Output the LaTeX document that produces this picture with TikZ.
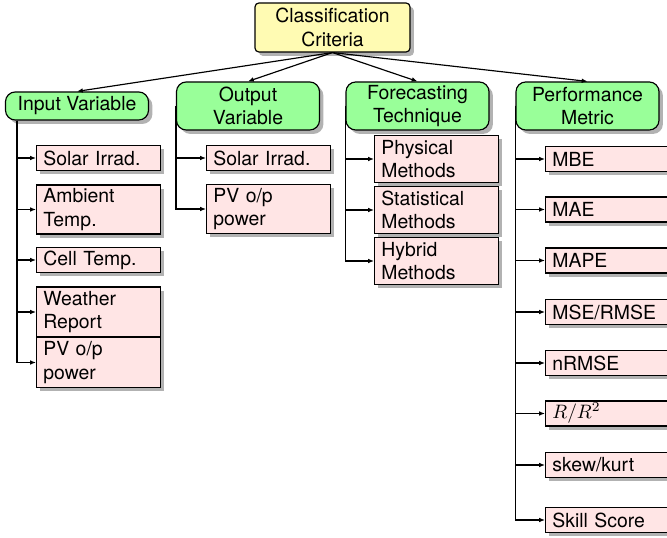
\documentclass[tikz,border=0pt]{standalone}
\usepackage[no-math]{fontspec}
\setmainfont{TeX Gyre Heros}
\usetikzlibrary{shadows,arrows.meta,calc}
\def\pxu{0.515pt}
\begin{document}
\begin{tikzpicture}[x=0.515pt,y=-0.515pt,
  box/.style={draw, line width=0.6pt,
    drop shadow={shadow xshift=2pt, shadow yshift=-2pt, opacity=0.3, fill=black}},
  rootbox/.style={box, fill=yellow!30, rounded corners=2pt, align=center,
    minimum width=155*\pxu, minimum height=49*\pxu, inner sep=1pt},
  catbox/.style={box, fill=green!40, rounded corners=5pt, align=center,
    minimum width=143*\pxu, minimum height=48*\pxu, inner sep=1pt},
  leaf/.style={box, fill=red!10, anchor=west, align=left,
    text width=124*\pxu-7pt, inner xsep=3.5pt, inner ysep=1pt,
    minimum height=25*\pxu},
  wideleaf/.style={leaf, text width=140*\pxu-7pt},
  tall/.style={minimum height=49*\pxu},
  link/.style={line width=0.6pt, -{Latex[length=3pt,width=2.4pt]}},
]
\useasboundingbox (0,0) rectangle (667,538);

% root
\node[rootbox] (root) at (332.5,27.5) {Classification\\Criteria};

% categories
\node[catbox, minimum height=28*\pxu] (iv) at (77,106) {Input Variable};
\node[catbox] (ov) at (248,106) {Output\\Variable};
\node[catbox] (fv) at (417.5,106) {Forecasting\\Technique};
\node[catbox] (pv) at (587.5,106) {Performance\\Metric};

\foreach \c in {iv,ov,fv,pv} \draw[link] (root.south) -- (\c.north);

% input variables
\node[leaf] (iv1) at (36,158) {Solar Irrad.};
\node[leaf, tall] (iv2) at (36,209.5) {Ambient\\Temp.};
\node[leaf] (iv3) at (36,260) {Cell Temp.};
\node[leaf, minimum height=50*\pxu] (iv4) at (36,312) {Weather\\Report};
\node[leaf, minimum height=50*\pxu] (iv5) at (36,362.5) {PV o/p\\power};
\coordinate (ivs) at ($(iv.south west)+(12,0)$);
\foreach \k in {1,...,5} \draw[link] (ivs) |- (iv\k.west);

% output variables
\node[leaf] (ov1) at (206,158) {Solar Irrad.};
\node[leaf, tall] (ov2) at (206,209) {PV o/p\\power};
\foreach \k in {1,2} \draw[link] (ov.west) |- (ov\k.west);

% forecasting techniques
\node[leaf, minimum height=47*\pxu] (fv1) at (374,159) {Physical\\Methods};
\node[leaf, minimum height=47*\pxu] (fv2) at (374,210) {Statistical\\Methods};
\node[leaf, minimum height=47*\pxu] (fv3) at (374,261) {Hybrid\\Methods};
\foreach \k in {1,2,3} \draw[link] (fv.west) |- (fv\k.west);

% performance metrics
\node[wideleaf] (pv1) at (545,159) {MBE};
\node[wideleaf] (pv2) at (545,209.5) {MAE};
\node[wideleaf] (pv3) at (545,260.5) {MAPE};
\node[wideleaf] (pv4) at (545,312) {MSE/RMSE};
\node[wideleaf] (pv5) at (545,363) {nRMSE};
\node[wideleaf] (pv6) at (545,413.5) {$R/R^2$};
\node[wideleaf] (pv7) at (545,465) {skew/kurt};
\node[wideleaf] (pv8) at (545,520) {Skill Score};
\foreach \k in {1,...,8} \draw[link] (pv.west) |- (pv\k.west);
\end{tikzpicture}
\end{document}
